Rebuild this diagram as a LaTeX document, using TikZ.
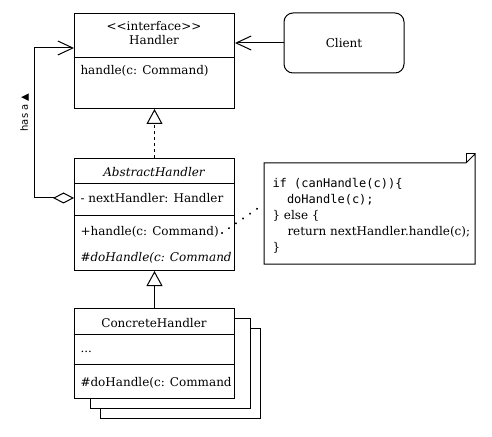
\documentclass[tikz,border=0pt]{standalone}
\usepackage{fontspec}
\setmainfont{DejaVu Serif}
\setsansfont{DejaVu Sans}
\setmonofont{DejaVu Sans Mono}
\usetikzlibrary{arrows.meta}
\begin{document}
\begin{tikzpicture}[x=1bp,y=-1bp,line width=1bp,
  every node/.style={font=\fontsize{12bp}{14bp}\selectfont},
  umlbox/.style={draw,fill=white,rectangle,minimum width=160bp,anchor=north west,inner sep=0pt},
  txt/.style={anchor=base west,inner sep=0pt},
  ctxt/.style={anchor=base,inner sep=0pt},
  openvee/.style={-{Straight Barb[length=15bp,width=14bp]}},
  realize/.style={dash pattern=on 3bp off 3bp,-{Triangle[open,length=15bp,width=16bp]}},
  generalize/.style={-{Triangle[open,length=15bp,width=16bp]}},
  aggr/.style={{Diamond[open,length=21bp,width=11bp]}-{Straight Barb[length=15bp,width=14bp]}},
  notelink/.style={line width=2.2bp,dash pattern=on 0.01bp off 8.5bp,line cap=round}]
\useasboundingbox (0,0) rectangle (492,437);
% Handler
\node[umlbox,minimum height=95bp] (handler) at (74,13) {};
\draw (handler.west |- 0,58) -- (handler.east |- 0,58);
\node[ctxt] (hst) at (154,31) {{<}{<}interface{>}{>}};
\node[ctxt] (hname) at (154,45) {Handler};
\node[txt] (hop) at (80,75) {handle(c: Command)};
% Client
\node[draw,rounded corners=9bp,minimum width=120bp,minimum height=60bp,inner sep=0pt] (client) at (344,43) {};
\node[ctxt] (cname) at (344,47.5) {Client};
% AbstractHandler
\node[umlbox,minimum height=112bp] (abs) at (74,158) {};
\draw (abs.west |- 0,184) -- (abs.east |- 0,184);
\draw (abs.west |- 0,216) -- (abs.east |- 0,216);
\node[ctxt] (aname) at (154,177) {\itshape AbstractHandler};
\node[txt] (aattr) at (80,203) {- nextHandler: Handler};
\node[txt] (aop1) at (80,236) {+handle(c: Command)};
\node[txt] (aop2) at (80,261) {\itshape \#doHandle(c: Command};
% ConcreteHandler with stacked copies
\node[umlbox,minimum height=90bp] (conc3) at (100,328) {};
\node[umlbox,minimum height=90bp] (conc2) at (90,318) {};
\node[umlbox,minimum height=90bp] (conc) at (74,308) {};
\draw (conc.west |- 0,334) -- (conc.east |- 0,334);
\draw (conc.west |- 0,364) -- (conc.east |- 0,364);
\node[ctxt] (cname2) at (154,327) {ConcreteHandler};
\node[txt] (cattr) at (80,352) {...};
\node[txt] (cop) at (80,386) {\#doHandle(c: Command};
% Note
\node[inner sep=0pt,minimum width=210bp,minimum height=100bp,anchor=north west] (note) at (264,163) {};
\draw (note.north west) -- ([xshift=-9bp]note.north east) -- ([yshift=9bp]note.north east) -- (note.south east) -- (note.south west) -- cycle;
\draw ([xshift=-9bp]note.north east) -- ([xshift=-9bp,yshift=9bp]note.north east) -- ([yshift=9bp]note.north east);
\node[txt] (n1) at (272,188) {\ttfamily if (canHandle(c))\{};
\node[txt] (n2) at (286.5,204) {\ttfamily doHandle(c);};
\node[txt] (n3) at (272,220) {\} else \{};
\node[txt] (n4) at (287,236) {return nextHandler.handle(c);};
\node[txt] (n5) at (272,251) {\}};
% label
\node[rotate=90,inner sep=0pt,font=\sffamily\fontsize{10bp}{12bp}\selectfont] (hasa) at (24.5,112.5) {has a \raisebox{0.3bp}{\fontsize{10bp}{12bp}\selectfont▲}};
% connectors
\coordinate (aggA) at (abs.west |- 0,198);
\coordinate (aggB) at (34,198);
\coordinate (aggC) at (34,48);
\coordinate (aggD) at (handler.west |- 0,48);
\draw[aggr] (aggA) -- (aggB) -- (aggC) -- (aggD);
\draw[openvee] (client.west) -- (handler.east |- client.west);
\draw[realize] (abs.north) -- (handler.south);
\draw[generalize] (conc.north) -- (abs.south);
\coordinate (dotA) at (222,233);
\coordinate (dotB) at (note.west |- 0,204);
\draw[notelink] (dotA) -- (dotB);
\end{tikzpicture}
\end{document}
